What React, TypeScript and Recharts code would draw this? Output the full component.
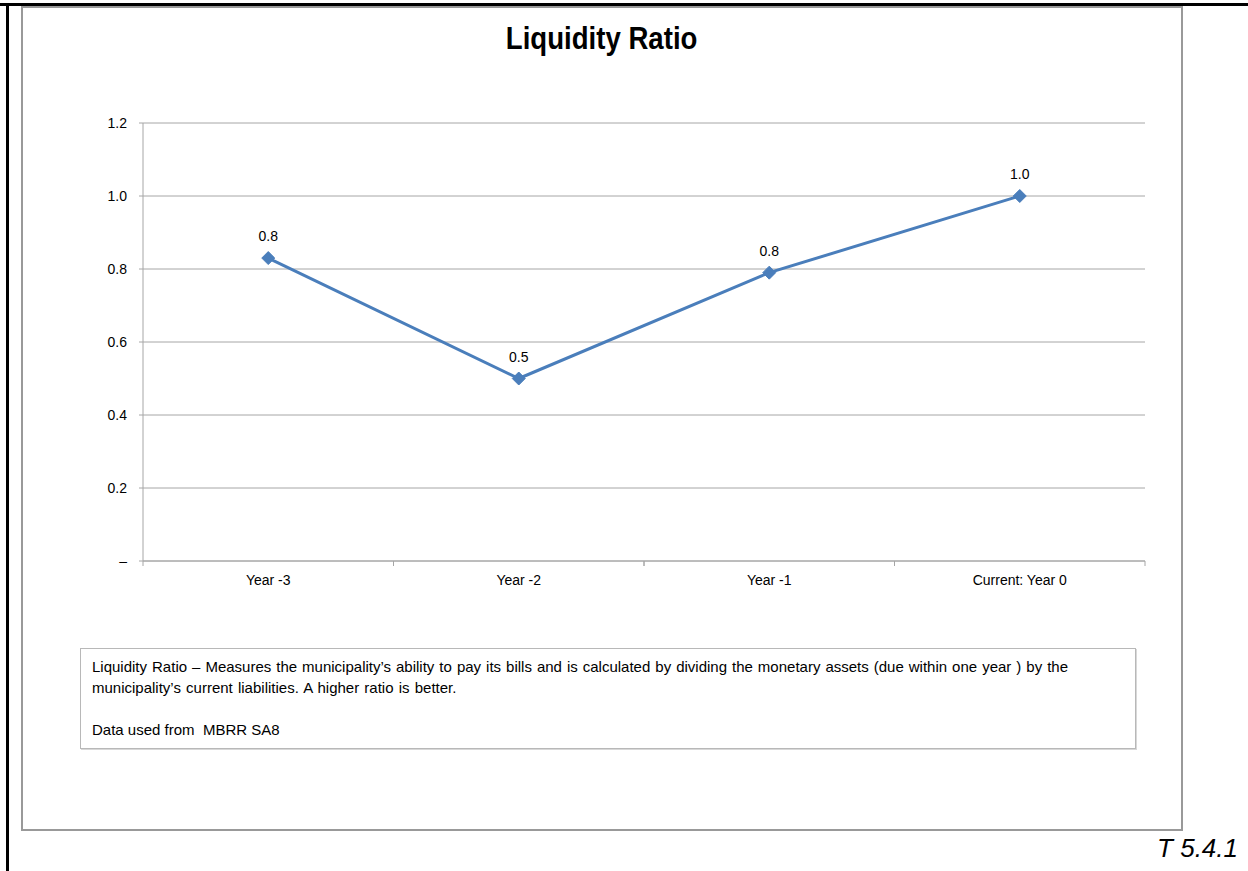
import React from "react";
import { LineChart, Line, XAxis, YAxis, CartesianGrid, LabelList } from "recharts";

const categories = ["Year -3", "Year -2", "Year -1", "Current: Year 0"];
const liquidityRatio = [0.83, 0.5, 0.79, 1.0];
const yTicks = [0, 0.2, 0.4, 0.6, 0.8, 1.0, 1.2];
const titleText = "Liquidity Ratio";
const noteLine1 =
  "Liquidity Ratio – Measures the municipality’s ability to pay its bills and is calculated by dividing the monetary assets (due within one year ) by the";
const noteLine2 = "municipality’s current liabilities. A higher ratio is better.";
const noteLine3 = "Data used from  MBRR SA8";
const tableRef = "T 5.4.1";

const data = categories.map((c, i) => ({ name: c, value: liquidityRatio[i] }));

const FONT = "'Liberation Sans', Arial, sans-serif";
const GRID = "#a6a6a6";
const BLUE = "#4a7ebb";

const TICK_SIZE = 0;
const TICK_MARGIN = 12;

const XTick = (props: any) => {
  const { x, y, payload } = props;
  const half = payload && payload.offset ? payload.offset : 125;
  const axisY = y - TICK_SIZE - TICK_MARGIN;
  return (
    <g>
      <line x1={x - half} x2={x - half} y1={axisY} y2={axisY + 5} stroke={GRID} />
      <line x1={x + half} x2={x + half} y1={axisY} y2={axisY + 5} stroke={GRID} />
      <text x={x} y={y} dy={12} textAnchor="middle" fill="#000" fontSize={14} fontFamily={FONT}>
        {payload.value}
      </text>
    </g>
  );
};

const fmtY = (v: number) => (v === 0 ? "–" : v.toFixed(1));

export default function App() {
  return (
    <div style={{ position: "absolute", left: 0, top: 0, width: 1248, height: 871, background: "#fff", overflow: "hidden" }}>
      <div style={{ position: "absolute", left: 0, top: 3, width: 1248, height: 3, background: "#000" }} />
      <div style={{ position: "absolute", left: 6, top: 3, width: 3, height: 868, background: "#000" }} />
      <div
        style={{
          position: "absolute",
          left: 21,
          top: 6,
          width: 1158,
          height: 821,
          border: "2px solid #999",
          background: "#fff",
        }}
      />
      <div
        style={{
          position: "absolute",
          left: 22,
          top: 21,
          width: 1160,
          textAlign: "center",
          fontFamily: FONT,
          fontWeight: "bold",
          fontSize: 31,
          color: "#000",
        }}
      >
        <span style={{ display: "inline-block", transform: "scaleX(0.89)" }}>{titleText}</span>
      </div>
      <div style={{ position: "absolute", left: 22, top: 7 }}>
        <LineChart width={1160} height={823} data={data} margin={{ top: 116, right: 37, bottom: 239, left: 61 }}>
          <CartesianGrid horizontal={true} vertical={false} stroke={GRID} strokeWidth={1} />
          <XAxis
            dataKey="name"
            scale="band"
            height={30}
            axisLine={{ stroke: GRID }}
            tickLine={false}
            tickSize={TICK_SIZE}
            tickMargin={TICK_MARGIN}
            tick={<XTick />}
            interval={0}
          />
          <YAxis
            width={60}
            domain={[0, 1.2]}
            ticks={yTicks}
            tickFormatter={fmtY}
            axisLine={{ stroke: GRID }}
            tickLine={{ stroke: GRID }}
            tickSize={4}
            tickMargin={12}
            tick={{ fill: "#000", fontSize: 14, fontFamily: FONT }}
            interval={0}
          />
          <Line
            type="linear"
            dataKey="value"
            stroke={BLUE}
            strokeWidth={3}
            isAnimationActive={false}
            dot={(p: any) => (
              <path
                key={`d${p.index}`}
                d={`M${p.cx},${p.cy - 6.5} L${p.cx + 6.5},${p.cy} L${p.cx},${p.cy + 6.5} L${p.cx - 6.5},${p.cy} Z`}
                fill={BLUE}
                stroke={BLUE}
              />
            )}
            activeDot={false}
          >
            <LabelList
              dataKey="value"
              position="top"
              offset={17}
              formatter={(v: any) => Number(v).toFixed(1)}
              style={{ fill: "#000", fontSize: 14, fontFamily: FONT }}
            />
          </Line>
        </LineChart>
      </div>
      <div
        style={{
          position: "absolute",
          left: 80,
          top: 648,
          width: 1054,
          height: 99,
          border: "1px solid #b8b8b8",
          boxShadow: "1px 1px 0 #d8d8d8",
          fontFamily: FONT,
          fontSize: 15,
          color: "#000",
          lineHeight: "21px",
        }}
      >
        <div style={{ position: "absolute", left: 11, top: 7, width: 976 }}>
          <div style={{ textAlign: "justify", textAlignLast: "justify" as any, whiteSpace: "nowrap" }}>{noteLine1}</div>
          <div style={{ wordSpacing: 1 }}>{noteLine2}</div>
          <div style={{ height: 21 }} />
          <div style={{ whiteSpace: "pre" }}>{noteLine3}</div>
        </div>
      </div>
      <div
        style={{
          position: "absolute",
          left: 1140,
          top: 833,
          width: 98,
          textAlign: "right",
          fontFamily: FONT,
          fontStyle: "italic",
          fontSize: 26,
          color: "#000",
        }}
      >
        {tableRef}
      </div>
    </div>
  );
}
